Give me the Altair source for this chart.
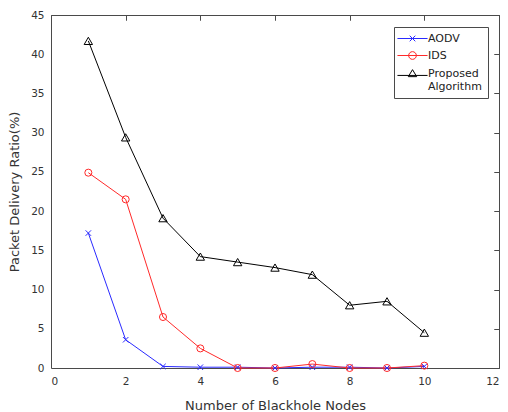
import altair as alt
import pandas as pd

nodes = [1, 2, 3, 4, 5, 6, 7, 8, 9, 10]
aodv = [17.2, 3.6, 0.2, 0.1, 0.1, 0.0, 0.1, 0.1, 0.0, 0.2]
ids = [24.9, 21.5, 6.5, 2.5, 0.0, 0.0, 0.5, 0.0, 0.0, 0.3]
proposed = [41.7, 29.4, 19.1, 14.2, 13.5, 12.8, 11.9, 8.0, 8.5, 4.5]
series_names = ["AODV", "IDS", "Proposed Algorithm"]
series_colors = ["#2a2aff", "#ff2a2a", "#000000"]
x_ticks = [0, 2, 4, 6, 8, 10, 12]
y_ticks = [0, 5, 10, 15, 20, 25, 30, 35, 40, 45]

rows = []
for name, vals in zip(series_names, [aodv, ids, proposed]):
    for n, v in zip(nodes, vals):
        rows.append({"nodes": n, "pdr": v, "series": name})
df = pd.DataFrame(rows)

marker_paths = ["M-1,-1L1,1M-1,1L1,-1", "circle", "triangle-up"]
legend_paths = [
    "M-4.3,0L4.3,0M-0.8,-0.8L0.8,0.8M-0.8,0.8L0.8,-0.8",
    "M-4.3,0L4.3,0M-1.1,0A1.1,1.1 0 1,1 1.1,0A1.1,1.1 0 1,1 -1.1,0",
    "M-4.3,0.55L4.3,0.55M0,-1.1L1.2,0.9L-1.2,0.9Z",
]

FONT = "DejaVu Sans"
AX = "#4a4a4a"
LABEL_EXPR = "datum.label == 'Proposed Algorithm' ? ['Proposed', 'Algorithm'] : datum.label"

xscale = alt.Scale(domain=[0, 12], nice=False, zero=False)
yscale = alt.Scale(domain=[0, 45], nice=False)
cscale = alt.Scale(domain=series_names, range=series_colors)

# layer 1: lines + labelled bottom/left axes
lines = alt.Chart(df).mark_line(strokeWidth=1).encode(
    x=alt.X("nodes:Q", scale=xscale, axis=alt.Axis(
        values=x_ticks, title="Number of Blackhole Nodes", grid=False,
        ticks=False, domain=False, labelPadding=8, titleY=37, titleBaseline="middle")),
    y=alt.Y("pdr:Q", scale=yscale, axis=alt.Axis(
        values=y_ticks, title="Packet Delivery Ratio(%)", grid=False,
        ticks=False, domain=False, labelPadding=7, titleX=-37, titleBaseline="middle")),
    color=alt.Color("series:N", scale=cscale, legend=None),
    detail="series:N",
)

# layer 2: markers + inward ticks on bottom/left
points = alt.Chart(df).mark_point(filled=False, strokeWidth=1, opacity=1).encode(
    x=alt.X("nodes:Q", scale=xscale, axis=alt.Axis(
        values=x_ticks, labels=False, title=None, grid=False, domain=False,
        tickSize=5, offset=-5)),
    y=alt.Y("pdr:Q", scale=yscale, axis=alt.Axis(
        values=y_ticks, labels=False, title=None, grid=False, domain=False,
        tickSize=5, offset=-5)),
    color=alt.Color("series:N", scale=cscale, legend=None),
    shape=alt.Shape("series:N", scale=alt.Scale(domain=series_names, range=marker_paths), legend=None),
    size=alt.Size("series:N", scale=alt.Scale(domain=series_names, range=[30, 70, 90]), legend=None),
)

# layer 3: legend symbols + inward ticks on top/right
legend_layer = alt.Chart(df).transform_filter("false").mark_point(filled=False, opacity=1, strokeWidth=1).encode(
    x=alt.X("nodes:Q", scale=xscale, axis=alt.Axis(
        orient="top", values=x_ticks, labels=False, title=None, grid=False, domain=False,
        tickSize=5, offset=-5)),
    y=alt.Y("pdr:Q", scale=yscale, axis=alt.Axis(
        orient="right", values=y_ticks, labels=False, title=None, grid=False, domain=False,
        tickSize=5, offset=-5)),
    shape=alt.Shape("series:N", scale=alt.Scale(domain=series_names, range=legend_paths),
        legend=alt.Legend(
            title=None, labelExpr=LABEL_EXPR,
            orient="none", legendX=343, legendY=12,
            fillColor="white", strokeColor=AX, padding=6,
            labelFont=FONT, labelFontSize=11, labelColor="#222222",
            symbolSize=49, symbolOffset=7, labelOffset=10,
            symbolFillColor="transparent", symbolStrokeWidth=1,
            symbolStrokeColor={"expr": "datum.value == 'AODV' ? '%s' : datum.value == 'IDS' ? '%s' : '%s'" % tuple(series_colors)},
            rowPadding=5,
        )),
)

chart = alt.layer(lines, points, legend_layer).resolve_axis(
    x="independent", y="independent"
).resolve_scale(shape="independent", size="independent").properties(
    width=448, height=353,
    autosize=alt.AutoSizeParams(type="none"),
    padding={"left": 43, "top": 7, "right": 1, "bottom": 44},
    background="white",
).configure_view(stroke=AX, strokeWidth=1).configure_axis(
    tickColor=AX, labelColor="#333333", titleColor="#333333",
    labelFont=FONT, titleFont=FONT, labelFontSize=10.5, titleFontSize=13,
    titleFontWeight="normal",
)

chart.save("out.html", embed_options={"renderer": "svg", "actions": False})
